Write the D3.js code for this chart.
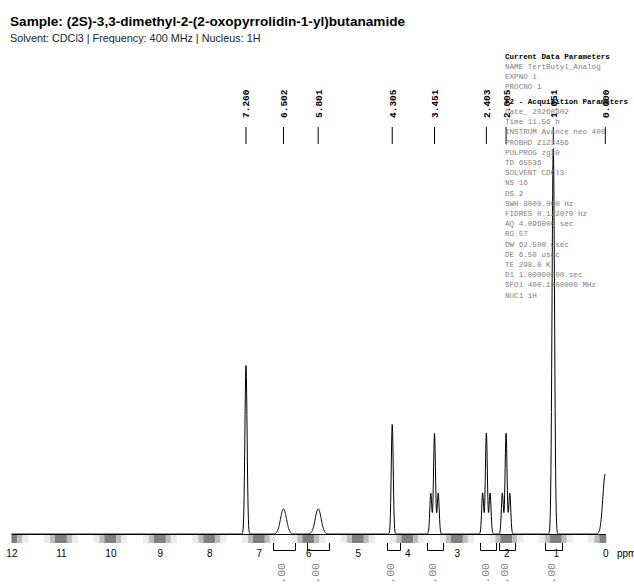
<!DOCTYPE html>
<html>
<head>
    <meta http-equiv="Content-Type" content="text/html;charset=utf-8">
    <script src="https://d3js.org/d3.v7.min.js"></script>
    <style>
        html, body {
            margin: 0;
            padding: 0;
            background: #fff;
        }

        svg {
            display: block;
        }

        .title {
            font: bold 13.6px "Liberation Sans", Arial, sans-serif;
            fill: #000;
        }

        .subtitle {
            font: 10.8px "Liberation Sans", Arial, sans-serif;
            fill: #222;
        }

        .axis text {
            font: 10px "Liberation Sans", Arial, sans-serif;
            fill: #000;
        }

        .axis path {
            stroke: #000;
            stroke-width: 1px;
        }

        .peak-label {
            font: bold 9.5px "Liberation Mono", "Courier New", monospace;
            fill: #000;
        }

        .integral-label {
            font: 11.5px "Liberation Mono", "Courier New", monospace;
            fill: #888;
        }

        .param {
            font: 7.6px "Liberation Mono", "Courier New", monospace;
            fill: #808080;
        }

        .param.header {
            font-weight: bold;
            fill: #000;
        }
    </style>
</head>
<body>
<div id="chart"></div>
<script>
    var title = "Sample: (2S)-3,3-dimethyl-2-(2-oxopyrrolidin-1-yl)butanamide";
    var subtitle = "Solvent: CDCl3 | Frequency: 400 MHz | Nucleus: 1H";

    // individual lines of the spectrum: shift (ppm), intensity (% of tallest), gaussian width (ppm)
    var lineShifts = [7.260, 6.502, 5.801, 4.305,
        3.526, 3.451, 3.376,
        2.478, 2.403, 2.328,
        2.080, 2.005, 1.930,
        1.051, 0.000];
    var lineIntensities = [43.7, 6.5, 6.5, 28.4,
        10.6, 26.1, 10.6,
        10.6, 26.1, 10.6,
        10.6, 26.1, 10.6,
        100, 15.5];
    var lineWidths = [0.022, 0.06, 0.06, 0.02,
        0.02, 0.02, 0.02,
        0.02, 0.02, 0.02,
        0.02, 0.02, 0.02,
        0.025, 0.05];

    // picked peaks
    var peakShifts = [7.260, 6.502, 5.801, 4.305, 3.451, 2.403, 2.005, 1.051, 0.000];
    var peakLabels = ["7.260", "6.502", "5.801", "4.305", "3.451", "2.403", "2.005", "1.051", "0.000"];

    // integrals
    var integralFrom = [6.72, 6.03, 4.41, 3.60, 2.53, 2.15, 1.22];
    var integralTo = [6.27, 5.59, 4.15, 3.28, 2.20, 1.82, 0.87];
    var integralValues = ["1.00", "1.00", "1.00", "2.00", "2.00", "2.00", "9.00"];

    var xTicks = [12, 11, 10, 9, 8, 7, 6, 5, 4, 3, 2, 1, 0];

    var params = [
        "Current Data Parameters",
        "NAME TertButyl_Analog",
        "EXPNO 1",
        "PROCNO 1",
        "F2 - Acquisition Parameters",
        "Date_ 20260302",
        "Time 11.56 h",
        "INSTRUM Avance neo 400",
        "PROBHD Z123456",
        "PULPROG zg30",
        "TD 65536",
        "SOLVENT CDCl3",
        "NS 16",
        "DS 2",
        "SWH 8000.000 Hz",
        "FIDRES 0.122070 Hz",
        "AQ 4.096000 sec",
        "RG 57",
        "DW 62.500 usec",
        "DE 6.50 usec",
        "TE 298.0 K",
        "D1 1.00000000 sec",
        "SFO1 400.1300000 MHz",
        "NUC1 1H"
    ];
    var paramHeaders = [0, 4];

    var width = 634,
        height = 584,
        baseY = 534;

    var svg = d3.select("#chart").append("svg")
        .attr("width", width)
        .attr("height", height);

    var x = d3.scaleLinear().domain([12, 0]).range([11.4, 605.3]);
    var y = d3.scaleLinear().domain([0, 100]).range([baseY, 147]);

    // titles
    svg.append("text").attr("class", "title").attr("x", 10).attr("y", 26).text(title);
    svg.append("text").attr("class", "subtitle").attr("x", 10).attr("y", 42).text(subtitle);

    // shaded tick band below the axis
    svg.append("clipPath").attr("id", "band-clip")
        .append("rect")
        .attr("x", x.range()[0]).attr("y", baseY)
        .attr("width", x.range()[1] - x.range()[0] + 1).attr("height", 12);

    var shades = [[-17, -11, "#ececec"], [-11, -6, "#bdbdbd"], [-6, 6, "#808080"], [6, 11, "#bdbdbd"], [11, 17, "#ececec"]];
    var band = svg.append("g").attr("clip-path", "url(#band-clip)");
    xTicks.forEach(function (t) {
        band.selectAll(null)
            .data(shades)
            .enter().append("rect")
            .attr("x", function (s) { return x(t) + s[0]; })
            .attr("width", function (s) { return s[1] - s[0]; })
            .attr("y", baseY + 1)
            .attr("height", 8)
            .attr("fill", function (s) { return s[2]; });
    });

    // axis
    svg.append("g")
        .attr("class", "axis")
        .attr("transform", "translate(0," + baseY + ")")
        .call(d3.axisBottom(x).tickValues(xTicks).tickFormat(d3.format("d")).tickSize(0).tickPadding(16));

    svg.append("text")
        .style("font", "10px 'Liberation Sans', Arial, sans-serif")
        .attr("x", 617).attr("y", 557)
        .text("ppm");

    // integrals
    var integrals = integralFrom.map(function (f, i) {
        return {from: f, to: integralTo[i], value: integralValues[i]};
    });

    svg.append("g").selectAll("path")
        .data(integrals)
        .enter().append("path")
        .attr("fill", "none")
        .attr("stroke", "#000")
        .attr("stroke-width", 1)
        .attr("d", function (d) {
            var x1 = Math.round(x(d.from)) + 0.5, x2 = Math.round(x(d.to)) + 0.5;
            return "M" + x1 + "," + (baseY + 9) + "V" + (baseY + 16.5) + "H" + x2 + "V" + (baseY + 9);
        });

    svg.append("g").selectAll("text")
        .data(integrals)
        .enter().append("text")
        .attr("class", "integral-label")
        .attr("text-anchor", "end")
        .attr("transform", function (d) {
            return "translate(" + (x((d.from + d.to) / 2) + 1) + "," + 563 + ") rotate(-90)";
        })
        .text(function (d) { return d.value; });

    // spectrum computed from the line list
    var pts = [];
    for (var px = x.range()[0]; px <= x.range()[1] + 0.001; px += 0.25) {
        var ppm = x.invert(px), v = 0;
        for (var k = 0; k < lineShifts.length; k++) {
            var z = (ppm - lineShifts[k]) / lineWidths[k];
            v += lineIntensities[k] * Math.exp(-0.5 * z * z);
        }
        pts.push([ppm, v]);
    }

    var line = d3.line()
        .x(function (d) { return x(d[0]); })
        .y(function (d) { return y(d[1]); });

    svg.append("path")
        .datum(pts)
        .attr("fill", "none")
        .attr("stroke", "#000")
        .attr("stroke-width", 1)
        .attr("d", line);

    // peak picking labels
    var peaks = svg.append("g");
    peaks.selectAll("line")
        .data(peakShifts)
        .enter().append("line")
        .attr("x1", function (d) { return x(d); })
        .attr("x2", function (d) { return x(d); })
        .attr("y1", 127)
        .attr("y2", 144)
        .attr("stroke", "#000")
        .attr("stroke-width", 1);

    peaks.selectAll("text")
        .data(peakShifts)
        .enter().append("text")
        .attr("class", "peak-label")
        .attr("transform", function (d) { return "translate(" + (x(d) + 3.5) + ",118) rotate(-90)"; })
        .text(function (d, i) { return peakLabels[i]; });

    // acquisition parameters
    svg.append("g").selectAll("text")
        .data(params)
        .enter().append("text")
        .attr("class", function (d, i) { return paramHeaders.indexOf(i) >= 0 ? "param header" : "param"; })
        .attr("x", 505)
        .attr("y", function (d, i) { return 58.5 + 10.2 * i + (i >= 4 ? 4.5 : 0); })
        .text(function (d) { return d; });
</script>
</body>
</html>
